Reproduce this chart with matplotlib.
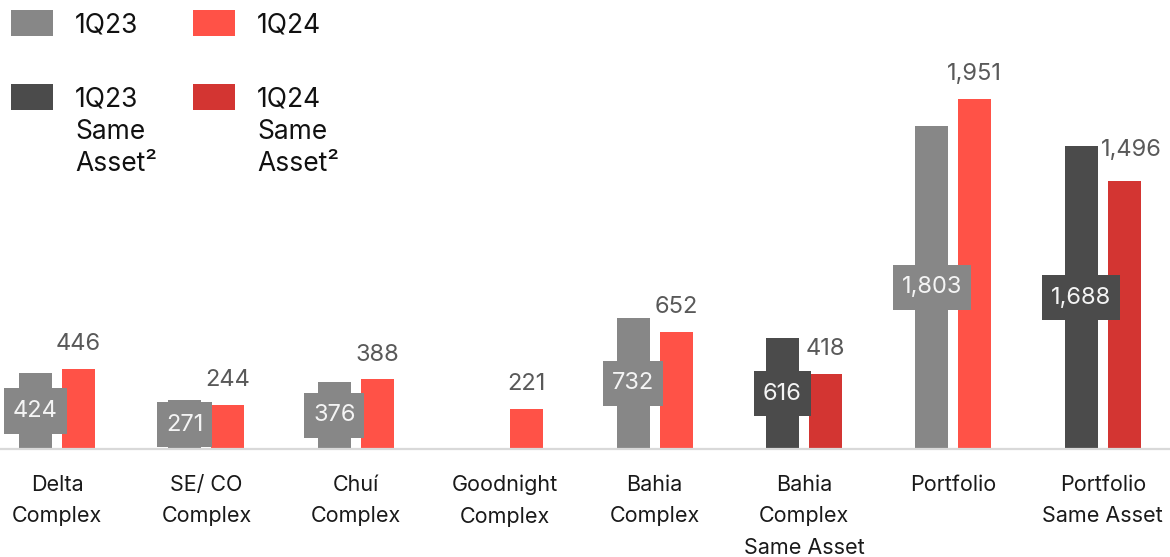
import matplotlib
matplotlib.use("Agg")
import matplotlib.pyplot as plt
from matplotlib.patches import Rectangle
from matplotlib.path import Path

# ---- data -------------------------------------------------------------
categories = [
    "Delta\nComplex", "SE/ CO\nComplex", "Chuí\nComplex", "Goodnight\nComplex",
    "Bahia\nComplex", "Bahia\nComplex\nSame Asset", "Portfolio", "Portfolio\nSame Asset",
]
q23_values = [424, 271, 376, None, 732, 616, 1803, 1688]
q24_values = [446, 244, 388, 221, 652, 418, 1951, 1496]
same_asset = [False, False, False, False, False, True, False, True]

legend_labels = ["1Q23", "1Q24", "1Q23\nSame\nAsset²", "1Q24\nSame\nAsset²"]

# ---- style ------------------------------------------------------------
C_Q23 = "#878787"
C_Q24 = "#ff5247"
C_Q23_SA = "#4b4b4b"
C_Q24_SA = "#d33532"
legend_colors = [C_Q23, C_Q24, C_Q23_SA, C_Q24_SA]

plt.rcParams["font.family"] = ["Inter", "DejaVu Sans"]

W, H = 1170, 557
fig = plt.figure(figsize=(W / 100, H / 100), dpi=100)
base_px = 449
ax = fig.add_axes([0, 1 - base_px / H, 1, base_px / H])

slot = 149.4
ax.set_xlim(-57 / slot, (W - 57) / slot)
ax.set_ylim(0, 2503)

bar_w = 33 / slot
off = 21.5 / slot


def label_box(x0, y0, width, height, mutation_size):
    """Rectangle with a fixed height and a modest side padding around a value."""
    padx = 0.37 * mutation_size
    box_h = 1.92 * mutation_size
    cy = y0 + height / 2
    left, right = x0 - padx, x0 + width + padx
    bottom, top = cy - box_h / 2, cy + box_h / 2
    return Path([(left, bottom), (right, bottom), (right, top), (left, top),
                 (left, bottom)], closed=True)


# small offsets (points) for labels that would otherwise touch a neighbour bar
label_nudge = {7: (5, 4)}

for i, (v23, v24, sa) in enumerate(zip(q23_values, q24_values, same_asset)):
    c23 = C_Q23_SA if sa else C_Q23
    c24 = C_Q24_SA if sa else C_Q24
    if v23 is not None:
        ax.bar(i - off, v23, bar_w, color=c23, zorder=2)
        ax.text(i - off, v23 / 2, f"{v23:,}", ha="center", va="center",
                color="#f4f4f4", fontsize=17, zorder=3,
                bbox=dict(boxstyle=label_box, fc=c23, ec="none"))
    if v24 is not None:
        dx, dy = label_nudge.get(i, (0, 0))
        ax.annotate(f"{v24:,}", (i + off, v24), xytext=(dx, 10 + dy),
                    textcoords="offset points", ha="center", va="bottom",
                    color="#595959", fontsize=17)
        ax.bar(i + off, v24, bar_w, color=c24, zorder=2)

for side in ("top", "right", "left"):
    ax.spines[side].set_visible(False)
ax.spines["bottom"].set_color("#d9d9d9")
ax.spines["bottom"].set_linewidth(1.6)
ax.set_yticks([])
ax.set_xticks(range(len(categories)))
ax.set_xticklabels(categories, fontsize=15.5, color="#1a1a1a", linespacing=1.73)
ax.tick_params(axis="x", length=0, pad=18.5)

# ---- legend -----------------------------------------------------------
def fx(px):
    return px / W


def fy(py):
    return 1 - py / H


legend_pos = [(11, 10), (193, 10), (11, 84), (193, 84)]
for (lx, ly), lab, col in zip(legend_pos, legend_labels, legend_colors):
    fig.patches.append(Rectangle((fx(lx), fy(ly + 26)), 42 / W, 26 / H,
                                 transform=fig.transFigure, fc=col, ec="none"))
    fig.text(fx(lx + 64), fy(ly + 2), lab, ha="left", va="top", fontsize=19,
             color="#111111", linespacing=1.33)

fig.savefig("out.png", dpi=100)
